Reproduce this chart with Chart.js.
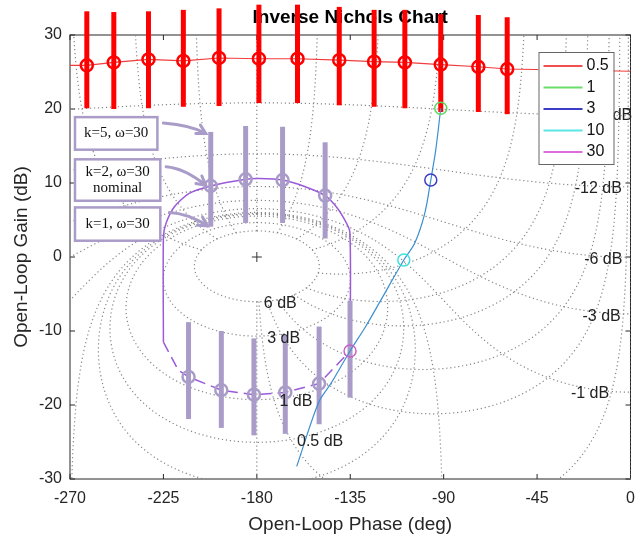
<!DOCTYPE html>
<html>
<head>
<meta charset="utf-8">
<title>Inverse Nichols Chart</title>
<script src="https://cdn.jsdelivr.net/npm/chart.js@4.4.1/dist/chart.umd.min.js"></script>
<style>
  html, body { margin: 0; padding: 0; background: #fff; }
</style>
</head>
<body>
<canvas id="nichols" width="639" height="539"></canvas>
<script>
// red markers (w = 0.5), one per k, with their spread
const redPhase = [-261.9, -248.9, -232.2, -215.4, -198.2, -179.0, -160.4, -140.3, -123.5, -108.7, -91.4, -73.3, -59.4];
const redGain  = [25.9, 26.3, 26.7, 26.5, 26.9, 26.8, 26.8, 26.6, 26.4, 26.3, 26.0, 25.7, 25.4];
const redHi    = [33.2, 33.1, 33.2, 33.4, 33.6, 34.1, 34.1, 33.8, 33.4, 33.4, 32.8, 32.7, 32.4];
const redLo    = [20.1, 20.0, 20.1, 20.3, 20.4, 20.8, 20.8, 20.5, 20.3, 20.1, 19.6, 19.6, 19.3];

// thin red line running across the plot
const redLinePhase = [-270, -261.9, -248.9, -232.2, -215.4, -198.2, -179.0, -160.4, -140.3, -123.5, -108.7, -91.4, -73.3, -59.4, 0];
const redLineGain  = [25.9, 25.9, 26.3, 26.7, 26.5, 26.9, 26.8, 26.8, 26.6, 26.4, 26.3, 26.0, 25.7, 25.4, 25.1];

// nominal response (blue line)
const bluePhase = [-91.4, -93.8, -96.2, -99.1, -103.9, -109.2, -120.2, -127.8, -135.1, -144.1, -150.3, -160.8];
const blueGain  = [20.1, 14.5, 10.4, 5.9, 1.9, -0.4, -5.8, -9.5, -12.7, -17.0, -19.7, -28.3];

// frequency markers on the nominal line
const markPhase = [-91.4, -96.2, -109.2, -135.1];
const markGain  = [20.1, 10.4, -0.4, -12.7];

// w = 30 loop (purple), solid and dashed parts
const loopPhase = [-135.1, -135.2, -138.4, -142.3, -147.1, -156.7, -167.6, -179.0, -185.4, -202.2, -212.6, -219.7, -223.7, -225.0, -225.0];
const loopGain  = [-12.7, 3.4, 5.4, 7.0, 8.3, 9.5, 10.4, 10.6, 10.5, 9.6, 8.6, 6.8, 4.6, 2.7, -11.5];
const loopDashPhase = [-225.0, -217.8, -212.9, -197.1, -181.4, -166.3, -150.0, -135.1];
const loopDashGain  = [-11.5, -15.3, -16.2, -18.0, -18.6, -18.3, -17.1, -12.7];

// lavender markers (w = 30) with spread
const lavPhase = [-202.2, -185.4, -167.6, -147.1, -212.9, -197.1, -181.4, -166.3, -150.0, -135.1];
const lavGain  = [9.6, 10.5, 10.4, 8.3, -16.2, -18.0, -18.6, -18.3, -17.1, -12.7];
const lavHi    = [16.9, 17.7, 17.6, 15.5, -8.8, -10.0, -11.0, -10.5, -9.4, -5.9];
const lavLo    = [4.1, 4.6, 4.6, 2.5, -21.9, -23.1, -24.1, -23.9, -22.6, -19.0];

// Nichols grid levels
const gridGainsDb = [6, 3, 1, 0.5, 0.25, 0, -1, -3, -6, -12, -20];
const gridPhasesDeg = [0, 1, 5, 10, 20, 30, 50, 90, 120, 150, 180];
const gridLabelText  = ['6 dB', '3 dB', '1 dB', '0.5 dB', '-1 dB', '-3 dB', '-6 dB', '-12 dB', '-20 dB'];
const gridLabelPhase = [-168.7, -167.1, -161.2, -149.5, -19.5, -13.9, -13.1, -15.5, -10.5];
const gridLabelGain  = [-6.3, -11.0, -19.6, -25.0, -18.4, -8.0, -0.3, 9.3, 19.1];

const legendLabels = ['0.5', '1', '3', '10', '30'];
const legendColors = ['#f25050', '#6ade6a', '#3c3cc8', '#5ae6e6', '#dc6edc'];

const chartTitle = 'Inverse Nichols Chart';

// call-out boxes (positions in data units)
const notes = [
  { lines: ['k=5, \u03c9=30'], box: [-267.6, -227.9, 18.9, 14.5], arrow: [-225.0, 18.1, -211.8, 17.8, -204.6, 16.7] },
  { lines: ['k=2, \u03c9=30', 'nominal'], box: [-267.6, -226.5, 13.2, 7.6], arrow: [-223.7, 12.2, -214.9, 12.0, -204.6, 9.7] },
  { lines: ['k=1, \u03c9=30'], box: [-267.6, -226.5, 6.7, 2.2], arrow: [-222.1, 6.0, -213.4, 5.9, -203.8, 4.2] }
];

const LAV = '#a99cc9';
const zip = (xs, ys) => xs.map((x, i) => ({ x, y: ys[i] }));

// ---- grid contours ----
function toNichols(re, im) {
  let ph = Math.atan2(im, re) * 180 / Math.PI;
  if (ph > 0) ph -= 360;
  return { x: ph, y: 20 * Math.log10(Math.hypot(re, im)) };
}

function splitSegments(pts) {
  const segs = [];
  let cur = [];
  pts.forEach(p => {
    const bad = !isFinite(p.y) || p.y < -70 || p.y > 70;
    const jump = cur.length && Math.abs(p.x - cur[cur.length - 1].x) > 90;
    if (bad || jump) {
      if (cur.length > 1) segs.push(cur);
      cur = [];
      if (bad) return;
    }
    cur.push(p);
  });
  if (cur.length > 1) segs.push(cur);
  return segs;
}

function gainContour(mDb) {
  const r = Math.pow(10, -mDb / 20), pts = [], n = 1440;
  for (let i = 0; i <= n; i++) {
    const b = Math.PI + 2 * Math.PI * i / n;
    pts.push(toNichols(-1 + r * Math.cos(b), r * Math.sin(b)));
  }
  return pts;
}

function phaseContour(aDeg) {
  const a = aDeg * Math.PI / 180, pts = [], n = 1600;
  for (let i = 0; i <= n; i++) {
    const t = 0.5 * Math.pow(800, i / n);
    pts.push(toNichols(-1 + t * Math.cos(a), t * Math.sin(a)));
  }
  return pts;
}

const gridSets = [];
const addGrid = pts => splitSegments(pts).forEach(seg => gridSets.push({
  type: 'line', data: seg, parsing: false, showLine: true,
  borderColor: '#858585', borderWidth: 1.2, borderDash: [1.2, 2.8],
  pointRadius: 0, tension: 0, order: 100
}));
gridGainsDb.forEach(m => addGrid(gainContour(m)));
gridPhasesDeg.forEach(a => {
  addGrid(phaseContour(a));
  if (a !== 0 && a !== 180) addGrid(phaseContour(-a));
});

// ---- plugins ----
const frame = {
  id: 'frame',
  beforeDatasetsDraw(chart) {
    const { ctx, chartArea: a } = chart;
    const xs = chart.scales.x, ys = chart.scales.y;
    ctx.save();
    // title over the plot area, under the data
    ctx.fillStyle = '#000';
    ctx.font = 'bold 19px "Liberation Sans", Arial, sans-serif';
    ctx.textAlign = 'center';
    ctx.textBaseline = 'middle';
    ctx.fillText(chartTitle, (a.left + a.right) / 2, a.top - 17);

    ctx.strokeStyle = '#262626';
    ctx.lineWidth = 1;
    ctx.strokeRect(a.left, a.top, a.right - a.left, a.bottom - a.top);
    ctx.beginPath();
    xs.ticks.forEach(t => {
      const x = xs.getPixelForValue(t.value);
      ctx.moveTo(x, a.bottom); ctx.lineTo(x, a.bottom - 5);
      ctx.moveTo(x, a.top); ctx.lineTo(x, a.top + 5);
    });
    ys.ticks.forEach(t => {
      const y = ys.getPixelForValue(t.value);
      ctx.moveTo(a.left, y); ctx.lineTo(a.left + 5, y);
      ctx.moveTo(a.right, y); ctx.lineTo(a.right - 5, y);
    });
    ctx.stroke();
    ctx.restore();
  }
};

const errbars = {
  id: 'errbars',
  beforeDatasetDraw(chart, args) {
    const ds = chart.data.datasets[args.index];
    if (!ds.errHi) return;
    const { ctx } = chart;
    const xs = chart.scales.x, ys = chart.scales.y;
    ctx.save();
    ctx.strokeStyle = ds.errColor;
    ctx.lineWidth = 5;
    ctx.lineCap = 'butt';
    ds.errHi.forEach((hi, i) => {
      const x = xs.getPixelForValue(ds.errX[i]);
      ctx.beginPath();
      ctx.moveTo(x, ys.getPixelForValue(hi));
      ctx.lineTo(x, ys.getPixelForValue(ds.errLo[i]));
      ctx.stroke();
    });
    ctx.restore();
  }
};

function drawArrow(ctx, x0, y0, cx, cy, x1, y1) {
  ctx.beginPath();
  ctx.moveTo(x0, y0);
  ctx.quadraticCurveTo(cx, cy, x1, y1);
  ctx.stroke();
  const ang = Math.atan2(y1 - cy, x1 - cx), L = 10, w = 0.5;
  ctx.beginPath();
  ctx.moveTo(x1 - L * Math.cos(ang - w), y1 - L * Math.sin(ang - w));
  ctx.lineTo(x1, y1);
  ctx.lineTo(x1 - L * Math.cos(ang + w), y1 - L * Math.sin(ang + w));
  ctx.stroke();
}

const overlay = {
  id: 'overlay',
  afterDatasetsDraw(chart) {
    const { ctx, chartArea: a } = chart;
    const px = v => chart.scales.x.getPixelForValue(v);
    const py = v => chart.scales.y.getPixelForValue(v);
    ctx.save();

    // grid labels
    ctx.font = '16px "Liberation Sans", Arial, sans-serif';
    ctx.fillStyle = '#222';
    ctx.textAlign = 'center';
    ctx.textBaseline = 'middle';
    gridLabelText.forEach((t, i) => ctx.fillText(t, px(gridLabelPhase[i]), py(gridLabelGain[i])));

    // call-outs
    notes.forEach(n => {
      const [p0, p1, g0, g1] = n.box;
      const x0 = px(p0), x1 = px(p1), y0 = py(g0), y1 = py(g1);
      ctx.fillStyle = '#fff';
      ctx.fillRect(x0, y0, x1 - x0, y1 - y0);
      ctx.strokeStyle = LAV;
      ctx.lineWidth = 2.5;
      ctx.strokeRect(x0, y0, x1 - x0, y1 - y0);
      ctx.fillStyle = '#111';
      ctx.font = '15px "Liberation Serif", "Times New Roman", serif';
      const cy = (y0 + y1) / 2, lh = 16;
      n.lines.forEach((s, k) => ctx.fillText(s, (x0 + x1) / 2, cy + (k - (n.lines.length - 1) / 2) * lh));
      const r = n.arrow;
      ctx.lineWidth = 3;
      ctx.lineCap = 'round';
      drawArrow(ctx, px(r[0]), py(r[1]), px(r[2]), py(r[3]), px(r[4]), py(r[5]));
    });

    // legend
    const lx = a.right - 92, ly = a.top + 17, lw = 75, lh = 112;
    ctx.fillStyle = '#fff';
    ctx.fillRect(lx, ly, lw, lh);
    ctx.strokeStyle = '#666';
    ctx.lineWidth = 1;
    ctx.lineCap = 'butt';
    ctx.strokeRect(lx + 0.5, ly + 0.5, lw, lh);
    ctx.font = '16px "Liberation Sans", Arial, sans-serif';
    ctx.textAlign = 'left';
    legendLabels.forEach((lab, i) => {
      const y = ly + 14 + i * 21.5;
      ctx.strokeStyle = legendColors[i];
      ctx.lineWidth = 2;
      ctx.beginPath(); ctx.moveTo(lx + 5, y); ctx.lineTo(lx + 44, y); ctx.stroke();
      ctx.fillStyle = '#111';
      ctx.fillText(lab, lx + 48, y);
    });
    ctx.restore();
  }
};

Chart.defaults.font.family = '"Liberation Sans", Arial, sans-serif';
Chart.defaults.color = '#262626';

const datasets = [
  { type: 'line', data: [{ x: -180, y: 0 }], showLine: false, pointStyle: 'cross', pointRadius: 5,
    borderColor: '#333', pointBorderWidth: 1, order: 1 },
  { type: 'line', data: zip(markPhase, markGain), showLine: false, pointRadius: 6, pointBorderWidth: 1.5,
    pointBackgroundColor: 'rgba(0,0,0,0)', pointBorderColor: ['#5fd65f', '#3c3cc8', '#3fe0e0', '#c862c8'], order: 2 },
  { type: 'line', data: zip(bluePhase, blueGain), borderColor: '#3b8fcf', borderWidth: 1.2,
    pointRadius: 0, tension: 0.3, order: 3 },
  { type: 'line', data: zip(lavPhase.slice(0, 9), lavGain.slice(0, 9)), showLine: false, pointRadius: 6,
    pointBorderWidth: 2.5, pointBorderColor: LAV, pointBackgroundColor: 'rgba(0,0,0,0)', order: 5,
    errX: lavPhase, errHi: lavHi, errLo: lavLo, errColor: LAV },
  { type: 'line', data: zip(redPhase, redGain), showLine: false, pointRadius: 6, pointBorderWidth: 2.5,
    pointBorderColor: '#ff0000', pointBackgroundColor: 'rgba(0,0,0,0)', order: 6,
    errX: redPhase, errHi: redHi, errLo: redLo, errColor: '#ff0000' },
  { type: 'line', data: zip(redLinePhase, redLineGain), borderColor: '#f03c3c', borderWidth: 1.1,
    pointRadius: 0, tension: 0, order: 7 },
  { type: 'line', data: zip(loopPhase, loopGain), borderColor: '#9b5ad8', borderWidth: 1.5,
    pointRadius: 0, tension: 0.25, order: 8 },
  { type: 'line', data: zip(loopDashPhase, loopDashGain), borderColor: '#9b5ad8', borderWidth: 1.5,
    borderDash: [11, 6], pointRadius: 0, tension: 0, order: 8 },
  ...gridSets
];

new Chart(document.getElementById('nichols'), {
  type: 'scatter',
  data: { datasets },
  options: {
    responsive: false,
    animation: false,
    events: [],
    layout: { padding: { top: 35, right: 6 } },
    plugins: {
      legend: { display: false },
      tooltip: { enabled: false },
      title: { display: false }
    },
    scales: {
      x: {
        type: 'linear', min: -270, max: 0,
        ticks: { stepSize: 45, font: { size: 16 }, padding: 10, maxRotation: 0 },
        grid: { display: false, drawTicks: false }, border: { display: false },
        title: { display: true, text: 'Open-Loop Phase (deg)', font: { size: 19 }, padding: { top: 0, bottom: 2.6 } },
        afterFit: s => { s.height = 60; s.paddingLeft = 0; s.paddingRight = 0; }
      },
      y: {
        type: 'linear', min: -30, max: 30,
        ticks: { stepSize: 10, font: { size: 16 }, padding: 8 },
        grid: { display: false, drawTicks: false }, border: { display: false },
        title: { display: true, text: 'Open-Loop Gain (dB)', font: { size: 19 }, padding: { top: 10.6, bottom: 0 } },
        afterFit: s => { s.width = 70; s.paddingTop = 0; s.paddingBottom = 0; }
      }
    }
  },
  plugins: [frame, errbars, overlay]
});
</script>
</body>
</html>
